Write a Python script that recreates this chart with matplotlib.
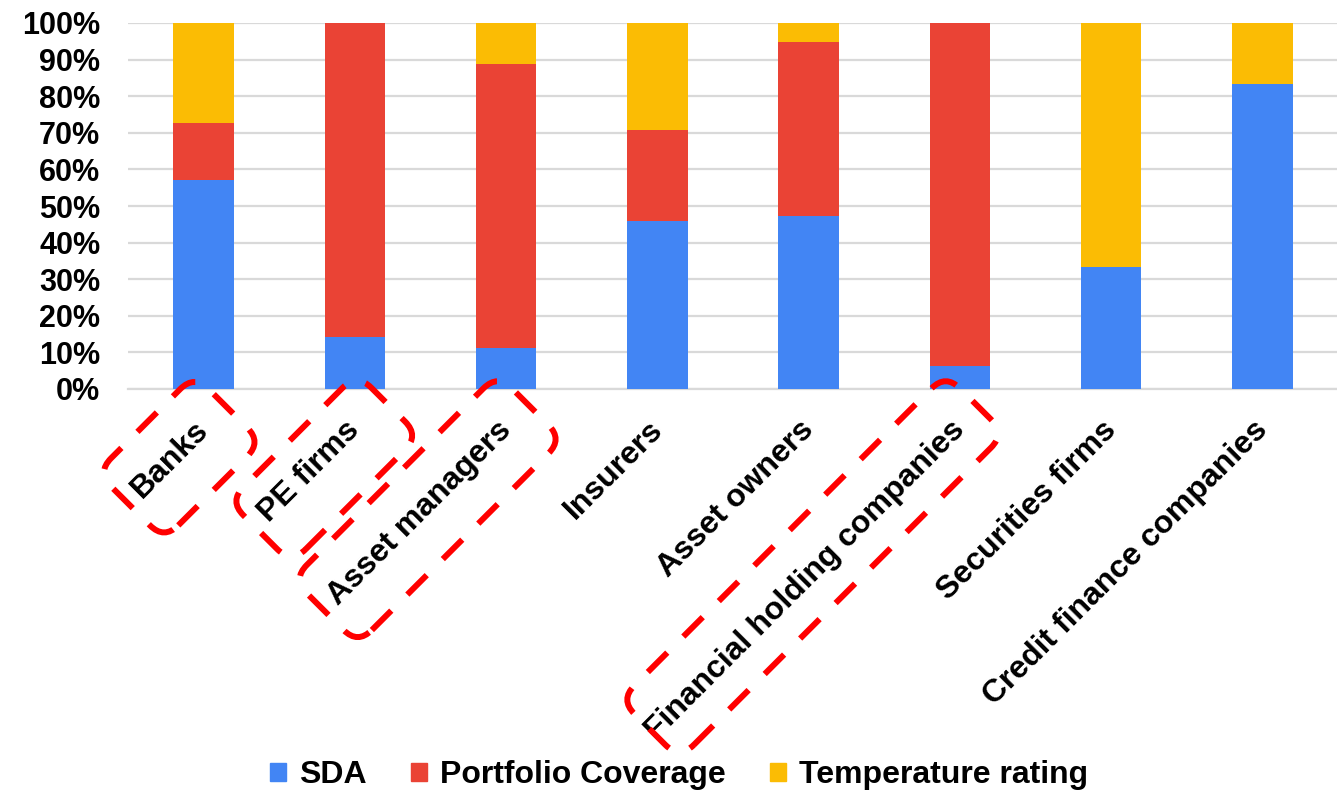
import matplotlib
matplotlib.use("Agg")
import matplotlib.pyplot as plt
from matplotlib.patches import Patch, FancyBboxPatch
from matplotlib.transforms import Affine2D, ScaledTranslation
from matplotlib.font_manager import FontProperties
import numpy as np

# share of each method per institution type (%)
categories = ["Banks", "PE firms", "Asset managers", "Insurers", "Asset owners",
              "Financial holding companies", "Securities firms", "Credit finance companies"]
sda = [57.1, 14.3, 11.1, 45.8, 47.4, 6.2, 33.3, 83.3]
portfolio_coverage = [15.7, 85.7, 77.8, 25.0, 47.4, 93.8, 0.0, 0.0]
temperature_rating = [27.2, 0.0, 11.1, 29.2, 5.2, 0.0, 66.7, 16.7]
series_names = ["SDA", "Portfolio Coverage", "Temperature rating"]

# labels circled with a red dashed outline (hand drawn in the original)
highlighted = ["Banks", "PE firms", "Asset managers", "Financial holding companies"]
# extra room (px) past the start / end of the text, and below / above it
box_start = [18, 18, 18, 1]
box_end = [24, 33, 25, 21]
box_below = [58, 58, 55, 43]
box_above = [37, 30, 37, 41]

colors = ["#4285F4", "#EA4335", "#FBBC04"]

plt.rcParams["font.family"] = ["Liberation Sans", "DejaVu Sans"]

W, H = 1337, 795
fig = plt.figure(figsize=(W / 100, H / 100), dpi=100)
ax = fig.add_axes([128 / W, 1 - 389 / H, (1338 - 128) / W, (389 - 23) / H])

x = np.arange(len(categories))
bottom = np.zeros(len(categories))
for vals, c in zip([sda, portfolio_coverage, temperature_rating], colors):
    ax.bar(x, vals, width=0.4, bottom=bottom, color=c, zorder=3)
    bottom += np.array(vals)

ax.set_xlim(-0.5, len(categories) - 0.5)
ax.set_ylim(0, 100)
ax.set_yticks(range(0, 101, 10))
ax.set_yticklabels([f"{v}%" for v in range(0, 101, 10)], fontsize=22, fontweight="bold")
ax.yaxis.grid(True, color="#d9d9d9", lw=1.6, zorder=0)
ax.tick_params(axis="y", length=0, pad=20)
ax.tick_params(axis="x", length=0)
for s in ["top", "right", "left"]:
    ax.spines[s].set_visible(False)
ax.spines["bottom"].set_color("#d9d9d9")
ax.spines["bottom"].set_linewidth(1.6)

# category labels, rotated 45 degrees, drawn as texts so they can be nudged
ax.set_xticks(x)
ax.set_xticklabels([])
shift = ScaledTranslation(-0.10, -0.26, fig.dpi_scale_trans)
for i, name in enumerate(categories):
    ax.text(i, 0, name, transform=ax.get_xaxis_transform() + shift,
            rotation=45, ha="right", va="top", rotation_mode="anchor",
            fontsize=23, fontweight="bold")

# dashed rounded boxes around some labels, drawn in pixel space
fig.canvas.draw()
renderer = fig.canvas.get_renderer()
fp = FontProperties(family=["Liberation Sans", "DejaVu Sans"], size=23, weight="bold")
for name, s0, s1, b0, b1 in zip(highlighted, box_start, box_end, box_below, box_above):
    i = categories.index(name)
    tw, th, td = renderer.get_text_width_height_descent(name, fp, ismath=False)
    px, py = ax.transData.transform((i, 0))
    py -= 29
    u0, u1 = -tw - s0, s1
    patch = FancyBboxPatch((u0, -b0), u1 - u0, b0 + b1,
                           boxstyle="round,pad=0,rounding_size=20",
                           fc="none", ec="red", lw=4.3, ls=(0, (4.6, 3.8)),
                           transform=Affine2D().rotate_deg(45).translate(px, py),
                           clip_on=False)
    fig.add_artist(patch)

handles = [Patch(color=c, label=n) for c, n in zip(colors, series_names)]
fig.legend(handles=handles, loc="center", bbox_to_anchor=(679 / W, 1 - 775 / H), ncol=3,
           frameon=False, prop={"weight": "bold", "size": 23},
           handlelength=0.5, handleheight=0.5, columnspacing=1.4, handletextpad=0.4)

plt.savefig("out.png", dpi=100)
